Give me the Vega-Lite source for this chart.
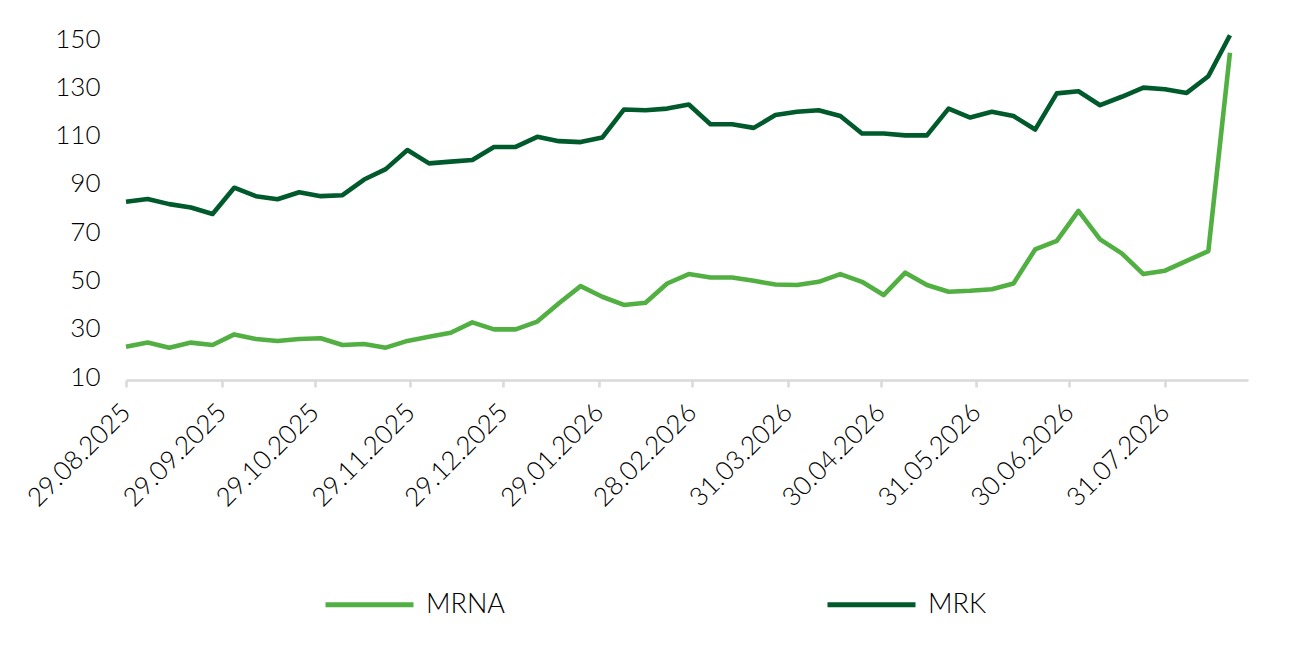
{
  "$schema": "https://vega.github.io/schema/vega-lite/v6.json",
  "width": 1122,
  "height": 345,
  "autosize": {"type": "none"},
  "padding": {"left": 126, "top": 35, "right": 51, "bottom": 269},
  "background": "white",
  "config": {
    "view": {"stroke": null},
    "font": "Lato",
    "axis": {"labelFont": "Lato", "labelColor": "#000000", "labelFontWeight": 300, "grid": false}
  },
  "data": {
    "values": [
      {"date": "2025-08-29", "MRK": 83.9, "MRNA": 23.8},
      {"date": "2025-09-05", "MRK": 85.0, "MRNA": 25.5},
      {"date": "2025-09-12", "MRK": 82.9, "MRNA": 23.4},
      {"date": "2025-09-19", "MRK": 81.5, "MRNA": 25.5},
      {"date": "2025-09-26", "MRK": 78.8, "MRNA": 24.5},
      {"date": "2025-10-03", "MRK": 89.7, "MRNA": 28.9},
      {"date": "2025-10-10", "MRK": 86.2, "MRNA": 27.0},
      {"date": "2025-10-17", "MRK": 84.9, "MRNA": 26.2},
      {"date": "2025-10-24", "MRK": 87.8, "MRNA": 27.0},
      {"date": "2025-10-31", "MRK": 86.2, "MRNA": 27.3},
      {"date": "2025-11-07", "MRK": 86.6, "MRNA": 24.5},
      {"date": "2025-11-14", "MRK": 93.1, "MRNA": 24.9},
      {"date": "2025-11-21", "MRK": 97.4, "MRNA": 23.4},
      {"date": "2025-11-28", "MRK": 105.3, "MRNA": 26.2},
      {"date": "2025-12-05", "MRK": 99.8, "MRNA": 27.9},
      {"date": "2025-12-12", "MRK": 100.5, "MRNA": 29.6},
      {"date": "2025-12-19", "MRK": 101.2, "MRNA": 33.9},
      {"date": "2025-12-26", "MRK": 106.6, "MRNA": 31.0},
      {"date": "2026-01-02", "MRK": 106.6, "MRNA": 31.0},
      {"date": "2026-01-09", "MRK": 110.8, "MRNA": 34.2},
      {"date": "2026-01-16", "MRK": 109.0, "MRNA": 41.8},
      {"date": "2026-01-23", "MRK": 108.6, "MRNA": 48.9},
      {"date": "2026-01-30", "MRK": 110.5, "MRNA": 44.5},
      {"date": "2026-02-06", "MRK": 122.1, "MRNA": 41.1},
      {"date": "2026-02-13", "MRK": 121.8, "MRNA": 42.0},
      {"date": "2026-02-20", "MRK": 122.5, "MRNA": 50.0},
      {"date": "2026-02-27", "MRK": 124.2, "MRNA": 53.9},
      {"date": "2026-03-06", "MRK": 116.0, "MRNA": 52.5},
      {"date": "2026-03-13", "MRK": 116.0, "MRNA": 52.5},
      {"date": "2026-03-20", "MRK": 114.5, "MRNA": 51.1},
      {"date": "2026-03-27", "MRK": 119.8, "MRNA": 49.6},
      {"date": "2026-04-03", "MRK": 121.2, "MRNA": 49.4},
      {"date": "2026-04-10", "MRK": 121.8, "MRNA": 50.7},
      {"date": "2026-04-17", "MRK": 119.4, "MRNA": 53.9},
      {"date": "2026-04-24", "MRK": 112.2, "MRNA": 50.7},
      {"date": "2026-05-01", "MRK": 112.2, "MRNA": 45.2},
      {"date": "2026-05-08", "MRK": 111.4, "MRNA": 54.5},
      {"date": "2026-05-15", "MRK": 111.4, "MRNA": 49.4},
      {"date": "2026-05-22", "MRK": 122.5, "MRNA": 46.6},
      {"date": "2026-05-29", "MRK": 118.8, "MRNA": 47.0},
      {"date": "2026-06-05", "MRK": 121.2, "MRNA": 47.6},
      {"date": "2026-06-12", "MRK": 119.4, "MRNA": 50.0},
      {"date": "2026-06-19", "MRK": 113.8, "MRNA": 64.1},
      {"date": "2026-06-26", "MRK": 128.8, "MRNA": 67.7},
      {"date": "2026-07-03", "MRK": 129.7, "MRNA": 80.1},
      {"date": "2026-07-10", "MRK": 123.9, "MRNA": 68.3},
      {"date": "2026-07-17", "MRK": 127.4, "MRNA": 62.5},
      {"date": "2026-07-24", "MRK": 131.2, "MRNA": 53.9},
      {"date": "2026-07-31", "MRK": 130.5, "MRNA": 55.3},
      {"date": "2026-08-07", "MRK": 129.0, "MRNA": 59.4},
      {"date": "2026-08-14", "MRK": 135.9, "MRNA": 63.4},
      {"date": "2026-08-21", "MRK": 152.9, "MRNA": 145.6}
    ]
  },
  "transform": [{"fold": ["MRNA", "MRK"], "as": ["series", "value"]}],
  "mark": {"type": "line", "strokeWidth": 4.6, "strokeJoin": "round", "clip": false},
  "encoding": {
    "x": {
      "field": "date",
      "type": "temporal",
      "scale": {"type": "utc", "domain": [{"year": 2025, "month": 8, "date": 29, "utc": true}, {"year": 2026, "month": 8, "date": 26, "hours": 20, "utc": true}]},
      "axis": {
        "title": null,
        "format": "%d.%m.%Y",
        "values": [
          {"year": 2025, "month": 8, "date": 29, "utc": true},
          {"year": 2025, "month": 9, "date": 29, "utc": true},
          {"year": 2025, "month": 10, "date": 29, "utc": true},
          {"year": 2025, "month": 11, "date": 29, "utc": true},
          {"year": 2025, "month": 12, "date": 29, "utc": true},
          {"year": 2026, "month": 1, "date": 29, "utc": true},
          {"year": 2026, "month": 2, "date": 28, "utc": true},
          {"year": 2026, "month": 3, "date": 31, "utc": true},
          {"year": 2026, "month": 4, "date": 30, "utc": true},
          {"year": 2026, "month": 5, "date": 31, "utc": true},
          {"year": 2026, "month": 6, "date": 30, "utc": true},
          {"year": 2026, "month": 7, "date": 31, "utc": true}
        ],
        "labelAngle": -45,
        "labelAlign": "right",
        "labelBaseline": "middle",
        "labelFontSize": 26,
        "labelPadding": 21,
        "labelOverlap": false,
        "labelFlush": false,
        "domainColor": "#d9d9d9",
        "domainWidth": 2.5,
        "tickColor": "#d9d9d9",
        "tickWidth": 2.5,
        "tickSize": 7
      }
    },
    "y": {
      "field": "value",
      "type": "quantitative",
      "scale": {"domain": [10, 153], "nice": false, "zero": false},
      "axis": {
        "title": null,
        "values": [10, 30, 50, 70, 90, 110, 130, 150],
        "domain": false,
        "ticks": false,
        "labelFontSize": 26,
        "labelPadding": 26,
        "labelOffset": -3
      }
    },
    "color": {
      "field": "series",
      "type": "nominal",
      "sort": ["MRNA", "MRK"],
      "scale": {"domain": ["MRNA", "MRK"], "range": ["#52b043", "#005a2c"]},
      "legend": {
        "title": null,
        "orient": "none",
        "direction": "horizontal",
        "legendX": 197,
        "legendY": 523,
        "symbolType": "stroke",
        "symbolSize": 7744,
        "symbolStrokeWidth": 5,
        "labelFontSize": 27,
        "labelFontWeight": 300,
        "labelOffset": 10,
        "columnPadding": 312,
        "labelColor": "#000000"
      }
    }
  }
}
